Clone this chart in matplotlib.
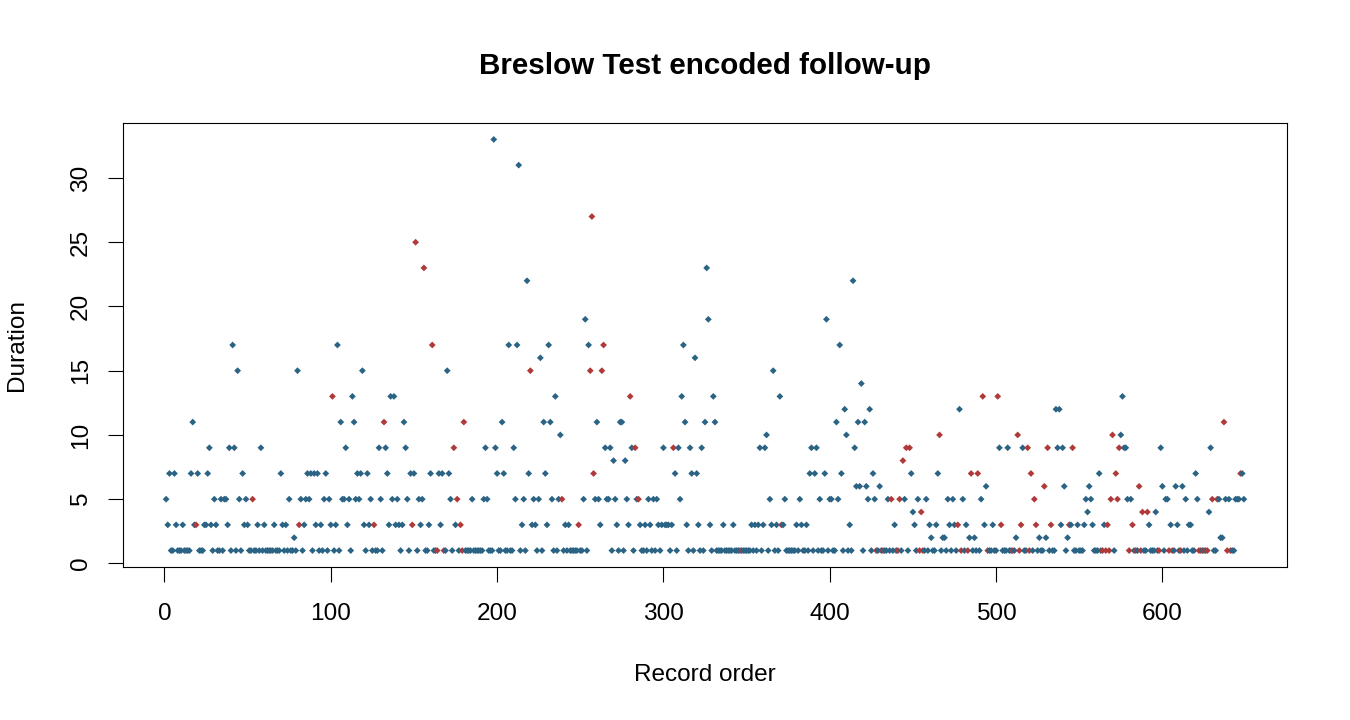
import numpy as np
import matplotlib
matplotlib.use("Agg")
import matplotlib.pyplot as plt

# durations, in record order (1..649)
duration = [
    5, 3, 7, 1, 1, 7, 3, 1, 1, 1,
    3, 1, 1, 1, 1, 7, 11, 3, 3, 7,
    1, 1, 1, 3, 3, 7, 9, 3, 1, 5,
    3, 1, 1, 5, 1, 5, 5, 3, 9, 1,
    17, 9, 1, 15, 5, 1, 7, 3, 5, 3,
    1, 1, 5, 1, 1, 3, 1, 9, 1, 3,
    1, 1, 1, 1, 1, 3, 1, 1, 1, 7,
    3, 1, 3, 1, 5, 1, 1, 2, 1, 15,
    3, 5, 1, 3, 5, 7, 5, 7, 1, 7,
    3, 7, 1, 3, 1, 5, 7, 1, 5, 3,
    13, 1, 3, 17, 1, 11, 5, 5, 9, 3,
    5, 1, 13, 11, 5, 7, 5, 7, 15, 3,
    1, 7, 3, 5, 1, 3, 1, 1, 9, 5,
    1, 11, 9, 7, 3, 13, 5, 13, 3, 5,
    3, 1, 3, 11, 9, 5, 1, 7, 3, 7,
    25, 1, 5, 3, 5, 23, 1, 1, 3, 7,
    17, 1, 1, 1, 7, 3, 7, 1, 1, 15,
    7, 5, 1, 9, 3, 5, 1, 3, 1, 11,
    1, 1, 1, 1, 5, 1, 1, 1, 1, 1,
    1, 5, 9, 5, 1, 1, 1, 33, 9, 7,
    1, 1, 11, 7, 1, 1, 17, 1, 1, 9,
    5, 17, 31, 1, 3, 5, 1, 22, 7, 15,
    3, 5, 3, 1, 5, 16, 1, 11, 7, 3,
    17, 11, 5, 1, 13, 1, 5, 10, 5, 1,
    3, 1, 3, 1, 1, 1, 1, 1, 3, 1,
    1, 5, 19, 1, 17, 15, 27, 7, 5, 11,
    5, 3, 15, 17, 9, 5, 5, 9, 1, 8,
    5, 3, 1, 11, 11, 1, 8, 5, 3, 13,
    9, 1, 9, 5, 5, 3, 1, 1, 3, 1,
    5, 3, 1, 5, 1, 5, 3, 1, 3, 9,
    3, 3, 3, 1, 3, 9, 7, 1, 9, 5,
    13, 17, 11, 3, 1, 9, 7, 1, 16, 7,
    3, 1, 9, 1, 11, 23, 19, 3, 1, 13,
    11, 1, 1, 1, 1, 3, 1, 1, 1, 1,
    1, 3, 1, 1, 1, 1, 1, 1, 1, 1,
    1, 1, 3, 1, 3, 1, 3, 9, 1, 3,
    9, 10, 1, 5, 3, 15, 1, 3, 1, 13,
    3, 3, 5, 1, 1, 1, 1, 1, 1, 3,
    1, 5, 3, 1, 1, 3, 1, 7, 9, 1,
    7, 9, 1, 5, 1, 1, 7, 19, 1, 5,
    5, 1, 1, 11, 5, 17, 7, 1, 12, 10,
    1, 3, 1, 22, 9, 6, 11, 6, 14, 1,
    11, 6, 5, 12, 1, 7, 5, 1, 1, 6,
    1, 1, 1, 1, 5, 1, 5, 1, 3, 1,
    1, 5, 1, 8, 5, 9, 1, 9, 7, 4,
    3, 1, 5, 1, 4, 1, 1, 5, 1, 3,
    2, 1, 1, 3, 7, 10, 1, 2, 2, 1,
    5, 3, 1, 5, 3, 1, 3, 12, 1, 5,
    1, 3, 1, 2, 7, 1, 2, 1, 7, 1,
    5, 13, 3, 6, 1, 1, 1, 3, 1, 1,
    13, 9, 3, 1, 1, 1, 9, 1, 1, 1,
    1, 2, 10, 1, 3, 9, 1, 1, 9, 1,
    7, 1, 5, 3, 1, 2, 1, 1, 6, 2,
    9, 1, 3, 1, 1, 12, 9, 12, 3, 9,
    6, 1, 2, 3, 3, 9, 1, 1, 3, 1,
    1, 1, 3, 5, 4, 6, 5, 3, 1, 1,
    1, 7, 1, 1, 3, 1, 3, 1, 5, 10,
    1, 7, 5, 9, 10, 13, 9, 9, 5, 1,
    5, 3, 1, 1, 1, 6, 1, 4, 1, 1,
    4, 3, 1, 1, 1, 4, 1, 1, 9, 6,
    1, 5, 5, 1, 3, 1, 1, 6, 3, 1,
    1, 6, 1, 5, 1, 3, 3, 1, 1, 7,
    5, 1, 1, 1, 1, 1, 1, 4, 9, 5,
    1, 1, 5, 5, 2, 2, 11, 5, 1, 5,
    1, 1, 1, 5, 5, 5, 7, 7, 5,
]

# record numbers drawn in red (event), all others blue
event_records = [
    19, 53, 81, 101, 126, 132, 149, 151, 156, 161, 164, 168, 174, 176, 178,
    179, 180, 220, 239, 249, 256, 257, 258, 263, 264, 280, 283, 285, 306,
    347, 371, 428, 432, 437, 441, 442, 444, 446, 448, 454, 455, 456, 466,
    477, 479, 483, 485, 489, 492, 495, 501, 503, 510, 513, 514, 515, 519,
    520, 521, 523, 524, 529, 531, 533, 544, 546, 564, 566, 567, 568, 569,
    570, 572, 573, 574, 580, 582, 584, 586, 587, 588, 591, 598, 604, 606,
    611, 622, 623, 625, 627, 630, 633, 637, 639, 641, 647,
]

x_ticks = [0, 100, 200, 300, 400, 500, 600]
y_ticks = [0, 5, 10, 15, 20, 25, 30]

blue = "#2a6384"
red = "#b03a3a"

plt.rcParams["font.family"] = ["Liberation Sans", "DejaVu Sans"]

y = np.array(duration)
x = np.arange(1, len(y) + 1)
cols = np.where(np.isin(x, event_records), red, blue)

W, H = 1350, 720
fig = plt.figure(figsize=(W / 100, H / 100), dpi=100)
ax = fig.add_axes([123 / W, 1 - 567 / H, (1287 - 123) / W, (567 - 123) / H])

ax.scatter(x, y, c=cols, marker="D", s=12, linewidths=0)

# R style 4% padding of the data range
px = 0.04 * (x.max() - x.min())
py = 0.04 * (y.max() - y.min())
ax.set_xlim(x.min() - px, x.max() + px)
ax.set_ylim(y.min() - py, y.max() + py)

ax.set_xticks(x_ticks)
ax.set_yticks(y_ticks)
ax.tick_params(axis="both", direction="out", length=10.8, width=0.8,
               labelsize=17.6, color="black")
ax.tick_params(axis="x", pad=15.3)
ax.tick_params(axis="y", pad=11.5, labelrotation=90)
for lab in ax.get_yticklabels():
    lab.set_va("center")
for s in ax.spines.values():
    s.set_linewidth(0.8)

fig.text(705 / W, 1 - 74 / H, "Breslow Test encoded follow-up", ha="center",
         va="baseline", fontsize=21.3, fontweight="bold")
fig.text(705 / W, 1 - 681 / H, "Record order", ha="center", va="baseline",
         fontsize=17.6)
fig.text(17.5 / W, 1 - 345 / H, "Duration", ha="center", va="center",
         rotation=90, fontsize=17.6)

fig.savefig("out.png", dpi=100, facecolor="white")
